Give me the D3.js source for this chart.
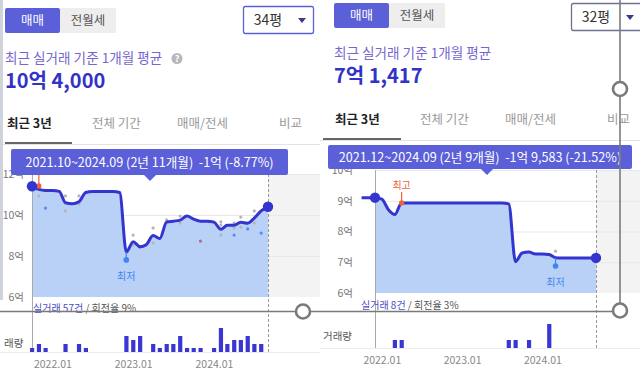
<!DOCTYPE html>
<html>
<head>
<meta charset="utf-8">
<script src="https://cdn.jsdelivr.net/npm/d3@7"></script>
<style>
body { margin: 0; background: #fff; }
svg { display: block; font-family: "Noto Sans CJK KR", "Noto Sans", sans-serif; }
</style>
</head>
<body>
<svg width="640" height="382"></svg>
<script>
// ---- data ----
const leftStart = "2021-10";
const leftPrice = [11.4, 11.25, 11.2, 11.2, 11.15, 10.6, 10.55, 10.65, 11.1, 11.15, 11.15, 11.15,
  11.15, 11.1, 8.2, 8.7, 8.45, 8.55, 9.0, 8.85, 9.65, 9.7, 9.75, 9.95,
  9.8, 9.7, 9.7, 9.65, 9.3, 9.5, 9.5, 9.65, 9.6, 9.85, 10.2, 10.4];
const leftVolMonths = ["2021-10", "2021-11", "2021-12", "2022-03", "2022-05", "2022-06",
  "2022-12", "2023-01", "2023-02", "2023-04", "2023-05", "2023-06", "2023-07", "2023-08",
  "2023-09", "2023-10", "2023-11", "2024-01", "2024-02", "2024-03", "2024-04", "2024-05",
  "2024-06", "2024-07", "2024-08"];
const leftVolCounts = [1, 2, 1, 2, 2, 1, 4, 3, 4, 2, 1, 2, 2, 4, 1, 1, 1, 1, 6, 2, 3, 3, 4, 2, 2];
const leftDots = [
  ["2021-11", 10.93, "g"], ["2021-12", 10.34, "b"], ["2022-03", 10.93, "g"], ["2022-03", 10.2, "g"],
  ["2022-05", 10.93, "g"], ["2022-05", 10.54, "g"], ["2023-01", 9.02, "g"], ["2023-01", 8.54, "g"],
  ["2023-02", 8.39, "g"], ["2023-04", 9.37, "g"], ["2023-04", 8.63, "g"], ["2023-06", 9.76, "g"],
  ["2023-08", 9.95, "g"], ["2023-08", 9.61, "g"], ["2023-11", 8.73, "r"], ["2024-02", 9.66, "g"],
  ["2024-02", 9.51, "g"], ["2024-02", 9.02, "g"], ["2024-04", 9.61, "g"], ["2024-04", 9.37, "g"],
  ["2024-04", 9.02, "b"], ["2024-05", 9.9, "g"], ["2024-05", 9.41, "g"], ["2024-06", 9.32, "b"],
  ["2024-07", 10.2, "g"], ["2024-07", 9.61, "g"], ["2024-08", 9.12, "b"]];

const rightStart = "2021-10";
const rightPrice = [9.1, 9.1, 9.1, 9.05, 8.7, 8.55, 8.93, 8.93, 8.93, 8.93, 8.93, 8.93,
  8.93, 8.93, 8.93, 8.93, 8.93, 8.93, 8.93, 8.93, 8.93, 8.93, 8.9, 7.02,
  7.3, 7.33, 7.27, 7.27, 7.25, 7.15, 7.14, 7.14, 7.14, 7.14, 7.14, 7.14];
const rightVolMonths = ["2022-03", "2022-04", "2023-08", "2023-09", "2023-11", "2024-02"];
const rightVolCounts = [1, 1, 1, 1, 1, 3];
const rightDots = [["2024-03", 7.36, "g"]];

const xTickLabels = ["2022-01", "2023-01", "2024-01"];

const parse = d3.timeParse("%Y-%m");
const svg = d3.select("svg");

const blue = "#3434cf";
const indigo = "#5b5fd8";

function panel(cfg) {
  const g = svg.append("g");
  const start = parse(cfg.start);
  const pts = cfg.price.map((v, i) => ({ d: d3.timeMonth.offset(start, i), v: v }));

  const x = d3.scaleTime().domain([parse(cfg.from), parse("2024-09")]).range([cfg.x0, cfg.x1]);
  const y = d3.scaleLinear().domain(cfg.yDomain).range([cfg.yBottom, cfg.yTop]);

  // future (grey) zone
  g.append("rect")
    .attr("x", cfg.x1).attr("y", cfg.yTop)
    .attr("width", cfg.right - cfg.x1).attr("height", cfg.yBottom - cfg.yTop)
    .attr("fill", "#f3f3f4");

  // grid
  g.selectAll("line.grid").data(cfg.yTicks.slice(1)).join("line")
    .attr("x1", cfg.x0).attr("x2", cfg.right)
    .attr("y1", d => y(d) + 0.5).attr("y2", d => y(d) + 0.5)
    .attr("stroke", "#e8e8e8");

  // y labels
  const ya = g.append("g").attr("transform", `translate(${cfg.labelX},0)`)
    .call(d3.axisLeft(y).tickValues(cfg.yTicks).tickFormat(d => d + "억").tickSize(0).tickPadding(0));
  ya.select(".domain").remove();
  ya.selectAll("text").attr("fill", "#777").style("font-size", "10.5px")
    .style("font-family", '"Noto Sans CJK KR", sans-serif');

  // area + line
  const areaPts = pts.filter(p => p.d >= parse(cfg.from));
  g.append("path").datum(areaPts)
    .attr("d", d3.area().x(p => x(p.d)).y0(cfg.yBottom).y1(p => y(p.v)).curve(d3.curveMonotoneX))
    .attr("fill", "#bad1f7");

  // axis lines
  g.append("line").attr("x1", cfg.x0 + 0.5).attr("x2", cfg.x0 + 0.5)
    .attr("y1", cfg.yTop).attr("y2", cfg.volBase).attr("stroke", "#aaa");
  g.append("line").attr("x1", cfg.x1 + 0.5).attr("x2", cfg.x1 + 0.5)
    .attr("y1", cfg.yTop).attr("y2", cfg.volBase).attr("stroke", "#999")
    .attr("stroke-dasharray", "3,2");

  // transaction dots
  const dotCol = { g: "#b5b5b8", b: "#4d8ef0", r: "#b46a8c" };
  g.selectAll("circle.tx").data(cfg.dots).join("circle")
    .attr("cx", d => x(parse(d[0]))).attr("cy", d => y(d[1])).attr("r", 1.6)
    .attr("fill", d => dotCol[d[2]]);

  g.append("path").datum(pts)
    .attr("d", d3.line().x(p => x(p.d)).y(p => y(p.v)).curve(d3.curveMonotoneX))
    .attr("fill", "none").attr("stroke", blue).attr("stroke-width", 3);

  // high marker
  const hx = x(parse(cfg.high[0])), hy = y(cfg.high[1]);
  g.append("line").attr("x1", hx).attr("x2", hx).attr("y1", hy).attr("y2", hy - 11)
    .attr("stroke", "#f0603a").attr("stroke-width", 1.2);
  g.append("circle").attr("cx", hx).attr("cy", hy).attr("r", 2.6).attr("fill", "#f0603a");
  g.append("text").attr("x", hx).attr("y", hy - 14).attr("text-anchor", "middle")
    .attr("fill", "#f0603a").style("font-size", "10px").text("최고");

  // low marker
  const lx = x(parse(cfg.low[0])), ly = y(cfg.low[1]);
  g.append("line").attr("x1", lx).attr("x2", lx).attr("y1", ly).attr("y2", ly + 9)
    .attr("stroke", "#3f86ee").attr("stroke-width", 1.2);
  g.append("circle").attr("cx", lx).attr("cy", ly + 8).attr("r", 2.8).attr("fill", "#3f86ee");
  g.append("text").attr("x", lx).attr("y", ly + 28).attr("text-anchor", "middle")
    .attr("fill", "#3f86ee").style("font-size", "10px").text("최저");

  // end dots
  const first = areaPts[0], last = areaPts[areaPts.length - 1];
  [first, last].forEach(p => {
    g.append("circle").attr("cx", x(p.d)).attr("cy", y(p.v)).attr("r", 5.2).attr("fill", blue);
  });

  // volume bars
  const yv = d3.scaleLinear().domain([0, d3.max(cfg.volCounts)]).range([cfg.volBase, cfg.volBase - 24]);
  g.selectAll("rect.vol").data(cfg.volMonths).join("rect")
    .attr("x", d => x(parse(d)) - 2).attr("width", 4.2)
    .attr("y", (d, i) => yv(cfg.volCounts[i]))
    .attr("height", (d, i) => cfg.volBase - yv(cfg.volCounts[i]))
    .attr("fill", "#3a36d4");

  g.append("line").attr("x1", cfg.left).attr("x2", cfg.right)
    .attr("y1", cfg.volBase + 0.5).attr("y2", cfg.volBase + 0.5).attr("stroke", "#ececec");

  // x labels
  const xa = g.append("g").attr("transform", `translate(0,${cfg.xLabelY})`)
    .call(d3.axisBottom(x).tickValues(xTickLabels.map(parse))
      .tickFormat(d3.timeFormat("%Y.%m")).tickSize(0).tickPadding(0));
  xa.select(".domain").remove();
  xa.selectAll("text").attr("fill", "#888").style("font-size", "10.5px")
    .style("font-family", '"Noto Sans CJK KR", sans-serif');

  // count caption
  const cap = g.append("text").attr("x", cfg.capX).attr("y", cfg.capY).style("font-size", "10px");
  cap.append("tspan").attr("fill", "#4b4bc8").text(cfg.capA);
  cap.append("tspan").attr("fill", "#555").text(cfg.capB);
  g.append("text").attr("x", cfg.volLabelX).attr("y", cfg.volLabelY)
    .attr("fill", "#555").style("font-size", "10.5px").text(cfg.volLabel);

  // header: toggle, dropdown, summary
  g.append("rect").attr("x", cfg.left + cfg.btnX).attr("y", cfg.btnY).attr("width", 55).attr("height", 25)
    .attr("rx", 2).attr("fill", indigo);
  g.append("rect").attr("x", cfg.left + cfg.btnX + 55).attr("y", cfg.btnY).attr("width", 56).attr("height", 25)
    .attr("fill", "#eeeeef");
  g.append("text").attr("x", cfg.left + cfg.btnX + 27.5).attr("y", cfg.btnY + 17).attr("text-anchor", "middle")
    .attr("fill", "#fff").style("font-size", "12.5px").text("매매");
  g.append("text").attr("x", cfg.left + cfg.btnX + 83).attr("y", cfg.btnY + 17).attr("text-anchor", "middle")
    .attr("fill", "#555").style("font-size", "12.5px").text("전월세");

  g.append("rect").attr("x", cfg.ddX + 0.5).attr("y", cfg.ddY + 0.5).attr("width", 70).attr("height", 27)
    .attr("rx", 2).attr("fill", "#fff").attr("stroke", cfg.ddStroke).attr("stroke-width", 1.3);
  g.append("text").attr("x", cfg.ddX + 25).attr("y", cfg.ddY + 19).attr("text-anchor", "middle")
    .attr("fill", "#333").style("font-size", "14px").text(cfg.size);
  g.append("path").attr("d", `M${cfg.ddX + 55},${cfg.ddY + 12}l8,0l-4,5z`).attr("fill", "#3a3a8a");

  g.append("text").attr("x", cfg.left + cfg.btnX).attr("y", cfg.titleY)
    .attr("fill", "#7468d0").style("font-size", "13.6px").text("최근 실거래 기준 1개월 평균");
  if (cfg.help) {
    g.append("circle").attr("cx", cfg.help).attr("cy", cfg.titleY - 4.5).attr("r", 5.5).attr("fill", "#b8b8bc");
    g.append("text").attr("x", cfg.help).attr("y", cfg.titleY - 1).attr("text-anchor", "middle")
      .attr("fill", "#fff").style("font-size", "9px").style("font-weight", "bold").text("?");
  }
  g.append("text").attr("x", cfg.left + cfg.btnX).attr("y", cfg.titleY + 25)
    .attr("fill", "#3232c6").style("font-size", "20px").style("font-weight", "bold").text(cfg.avg);

  // tabs
  const tabs = ["최근 3년", "전체 기간", "매매/전세", "비교"];
  g.selectAll("text.tab").data(tabs).join("text")
    .attr("x", (d, i) => cfg.tabX[i]).attr("y", cfg.tabY)
    .attr("fill", (d, i) => i === 0 ? "#222" : "#999")
    .style("font-weight", (d, i) => i === 0 ? "bold" : "normal")
    .style("font-size", "12.5px").text(d => d);
  g.append("line").attr("x1", cfg.left).attr("x2", cfg.right)
    .attr("y1", cfg.tabLineY + 1.5).attr("y2", cfg.tabLineY + 1.5).attr("stroke", "#e3e3e3");
  g.append("line").attr("x1", cfg.tabUl[0]).attr("x2", cfg.tabUl[1])
    .attr("y1", cfg.tabLineY).attr("y2", cfg.tabLineY).attr("stroke", "#333").attr("stroke-width", 1.6);

  // tooltip
  g.append("rect").attr("x", cfg.tipX[0]).attr("y", cfg.tipY).attr("width", cfg.tipX[1] - cfg.tipX[0])
    .attr("height", cfg.tipH).attr("rx", 2).attr("fill", indigo);
  g.append("path").attr("d", `M${cfg.tipPtr - 6},${cfg.tipY + cfg.tipH}l6,6l6,-6z`).attr("fill", indigo);
  g.append("text").attr("x", (cfg.tipX[0] + cfg.tipX[1]) / 2).attr("y", cfg.tipY + cfg.tipH / 2 + 4.5)
    .attr("text-anchor", "middle").attr("fill", "#fff").style("font-size", "12.6px")
    .style("white-space", "pre").text(cfg.tip);
}

panel({
  left: 0, right: 320, start: leftStart, price: leftPrice, from: "2021-10",
  x0: 32, x1: 268, yDomain: [6, 12], yTop: 174, yBottom: 297, yTicks: [6, 8, 10, 12], labelX: 24,
  dots: leftDots, high: ["2021-11", 11.42], low: ["2022-12", 8.2],
  volMonths: leftVolMonths, volCounts: leftVolCounts, volBase: 352, xLabelY: 361,
  capX: 33, capY: 312, capA: "실거래 57건", capB: " / 회전율 9%", volLabelX: 4, volLabelY: 347, volLabel: "래량",
  btnX: 5, btnY: 8, ddX: 243, ddY: 6, ddStroke: "#5b5fd8", size: "34평", titleY: 63, avg: "10억 4,000",
  help: 177,
  tabX: [7, 92, 177, 279], tabY: 128, tabLineY: 143, tabUl: [5, 72],
  tipX: [11, 288], tipY: 149, tipH: 26, tipPtr: 150, tip: "2021.10~2024.09 (2년 11개월)  -1억 (-8.77%)"
});

panel({
  left: 320, right: 640, start: rightStart, price: rightPrice, from: "2021-12",
  x0: 375, x1: 596, yDomain: [6, 10], yTop: 170, yBottom: 293, yTicks: [6, 7, 8, 9, 10], labelX: 353,
  dots: rightDots, high: ["2022-04", 8.93], low: ["2024-03", 7.14],
  volMonths: rightVolMonths, volCounts: rightVolCounts, volBase: 348, xLabelY: 357,
  capX: 361, capY: 309, capA: "실거래 8건", capB: " / 회전율 3%", volLabelX: 323, volLabelY: 340, volLabel: "거래량",
  btnX: 14, btnY: 3, ddX: 571, ddY: 3, ddStroke: "#6f7194", size: "32평", titleY: 58, avg: "7억 1,417",
  help: 0,
  tabX: [335, 420, 505, 607], tabY: 124, tabLineY: 139, tabUl: [323, 401],
  tipX: [328, 632], tipY: 145, tipH: 24, tipPtr: 487, tip: "2021.12~2024.09 (2년 9개월)  -1억 9,583 (-21.52%)"
});

// left border of the capture
svg.append("rect").attr("x", 0).attr("y", 0).attr("width", 3).attr("height", 300).attr("fill", "#cfd3dc");

// crop-handle overlay from the screenshot tool
const ov = svg.append("g").attr("stroke", "#7a7a7a").attr("stroke-width", 1.6);
ov.append("line").attr("x1", 0).attr("x2", 613).attr("y1", 311.5).attr("y2", 311.5);
ov.append("line").attr("x1", 620).attr("x2", 620).attr("y1", 0).attr("y2", 303);
[[303, 311.5], [620, 89], [620, 310.5]].forEach(c => {
  ov.append("circle").attr("cx", c[0]).attr("cy", c[1]).attr("r", 7)
    .attr("fill", "#fff").attr("stroke-width", 2.6);
});
</script>
</body>
</html>
